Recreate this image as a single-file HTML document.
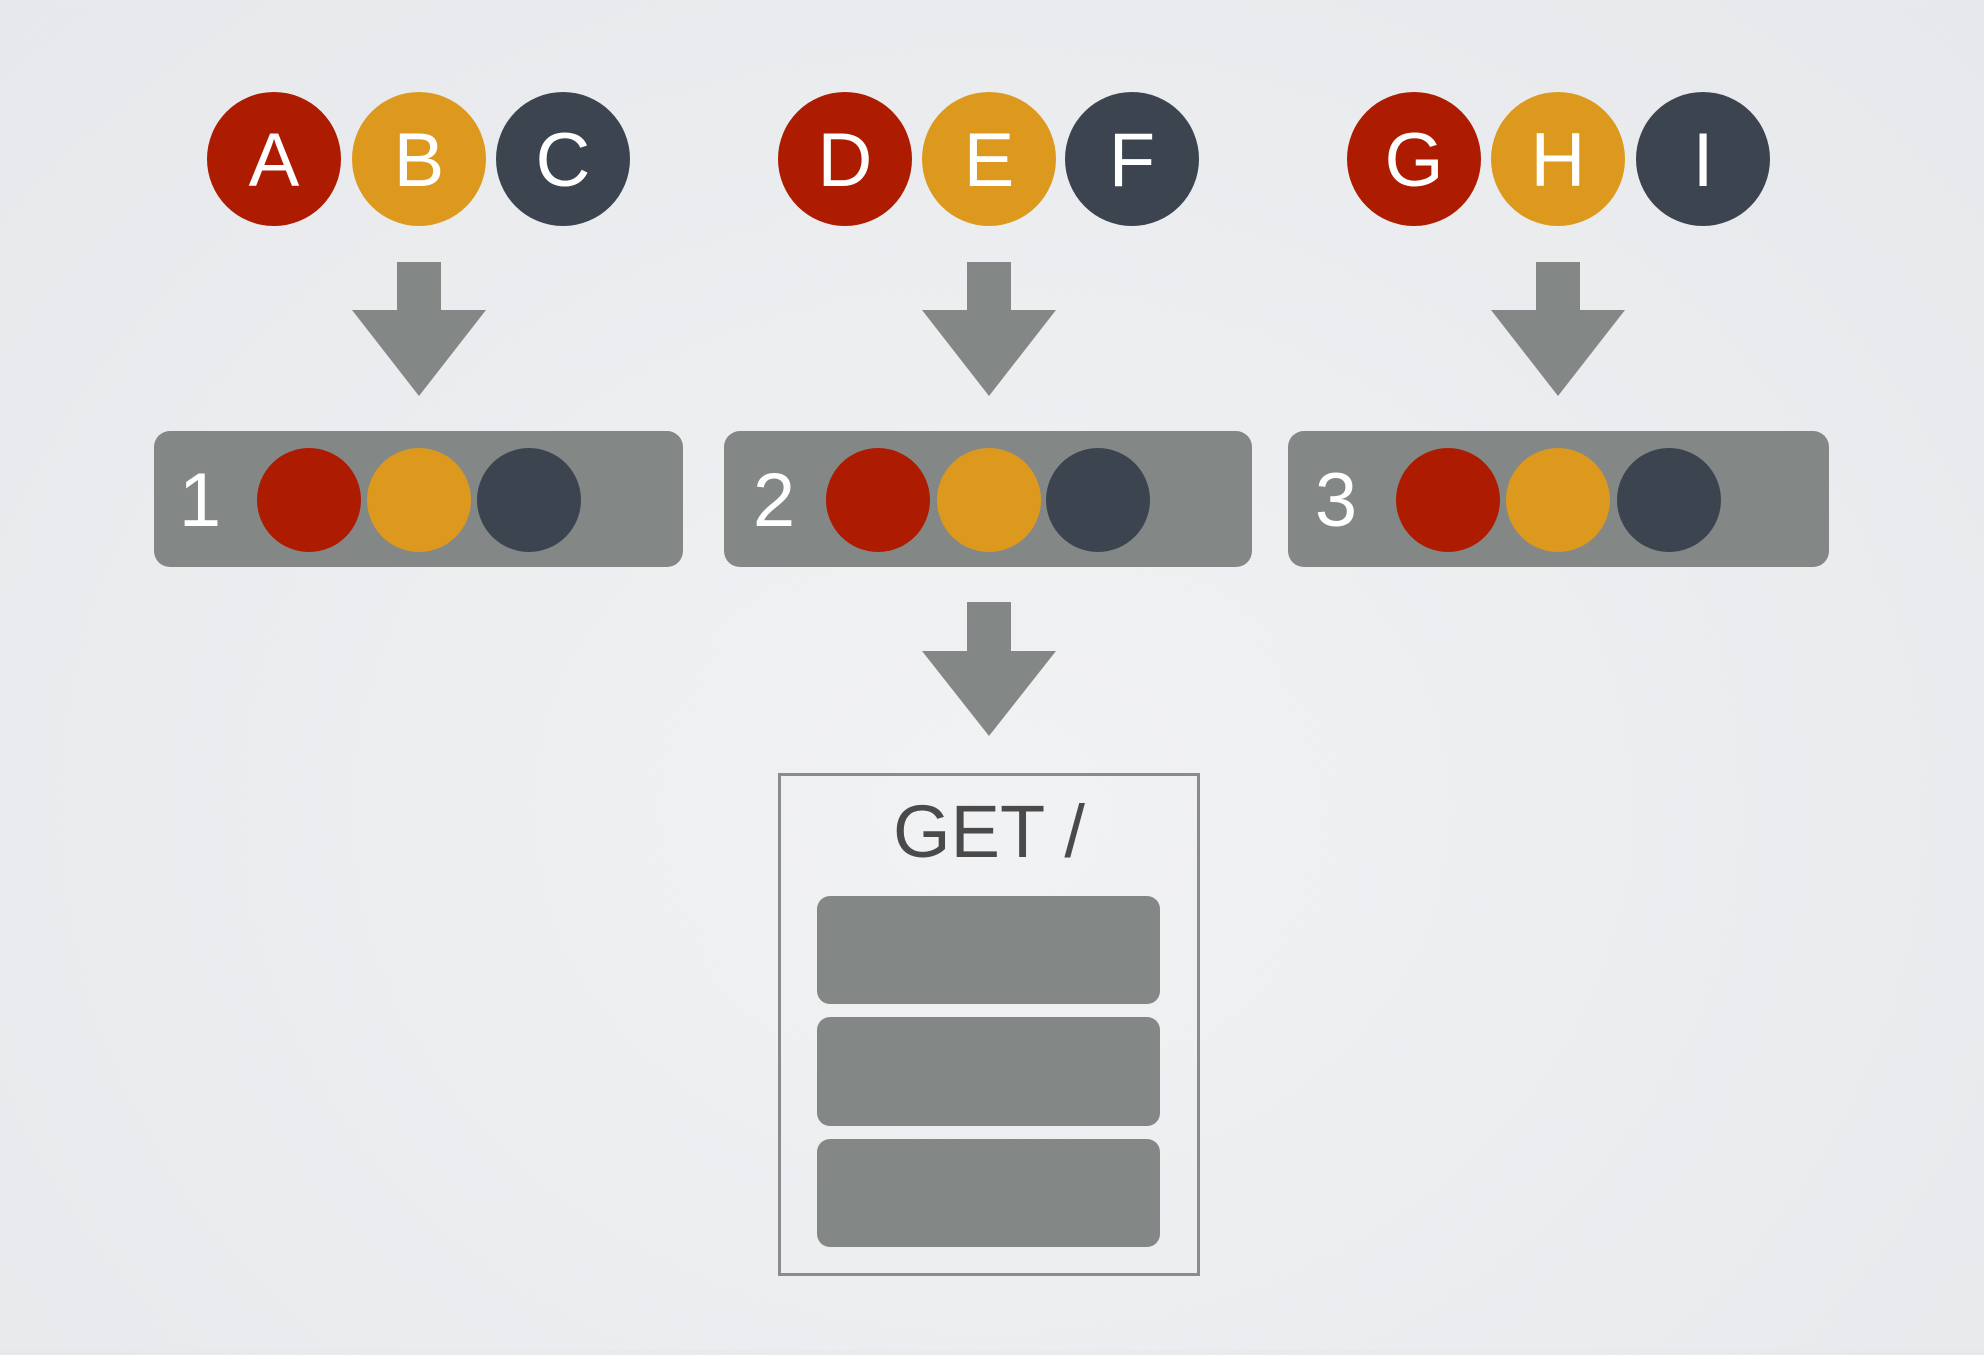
<!DOCTYPE html>
<html><head><meta charset="utf-8"><style>
html,body{margin:0;padding:0}
body{width:1984px;height:1350px;overflow:hidden;background:radial-gradient(ellipse at 50% 60%,#f1f2f4 0%,#e6e8eb 100%);}
</style></head><body>
<svg width="1984" height="1350" viewBox="0 0 1984 1350" xmlns="http://www.w3.org/2000/svg" font-family="Liberation Sans, sans-serif">
<g font-size="76" fill="#fff" text-anchor="middle" font-weight="300">
<circle cx="274" cy="159" r="67" fill="#ad1b00"/><circle cx="419" cy="159" r="67" fill="#dc991e"/><circle cx="563" cy="159" r="67" fill="#3c4450"/>
<circle cx="845" cy="159" r="67" fill="#ad1b00"/><circle cx="989" cy="159" r="67" fill="#dc991e"/><circle cx="1132" cy="159" r="67" fill="#3c4450"/>
<circle cx="1414" cy="159" r="67" fill="#ad1b00"/><circle cx="1558" cy="159" r="67" fill="#dc991e"/><circle cx="1703" cy="159" r="67" fill="#3c4450"/>
<text x="274" y="186">A</text><text x="419" y="186">B</text><text x="563" y="186">C</text>
<text x="845" y="186">D</text><text x="989" y="186">E</text><text x="1132" y="186">F</text>
<text x="1414" y="186">G</text><text x="1558" y="186">H</text><text x="1703" y="186">I</text>
</g>
<g fill="#838886">
<path d="M397 262H441V310H486L419 396L352 310H397Z"/>
<path d="M967 262H1011V310H1056L989 396L922 310H967Z"/>
<path d="M1536 262H1580V310H1625L1558 396L1491 310H1536Z"/>
<path d="M967 602H1011V651H1056L989 736L922 651H967Z"/>
<rect x="154" y="431" width="529" height="136" rx="16"/>
<rect x="724" y="431" width="528" height="136" rx="16"/>
<rect x="1288" y="431" width="541" height="136" rx="16"/>
<rect x="817" y="896" width="343" height="108" rx="13"/>
<rect x="817" y="1017" width="343" height="109" rx="13"/>
<rect x="817" y="1139" width="343" height="108" rx="13"/>
</g>
<circle cx="309" cy="500" r="52" fill="#ad1b00"/><circle cx="419" cy="500" r="52" fill="#dc991e"/><circle cx="529" cy="500" r="52" fill="#3c4450"/>
<circle cx="878" cy="500" r="52" fill="#ad1b00"/><circle cx="989" cy="500" r="52" fill="#dc991e"/><circle cx="1098" cy="500" r="52" fill="#3c4450"/>
<circle cx="1448" cy="500" r="52" fill="#ad1b00"/><circle cx="1558" cy="500" r="52" fill="#dc991e"/><circle cx="1669" cy="500" r="52" fill="#3c4450"/>
<g font-size="76" fill="#fff" text-anchor="middle">
<text x="200" y="526">1</text><text x="774" y="526">2</text><text x="1336" y="526">3</text>
</g>
<rect x="779.5" y="774.5" width="419" height="500" fill="none" stroke="#8a8c8c" stroke-width="3"/>
<text x="989" y="857" font-size="74" fill="#4a4a4a" text-anchor="middle">GET /</text>
</svg>
</body></html>
